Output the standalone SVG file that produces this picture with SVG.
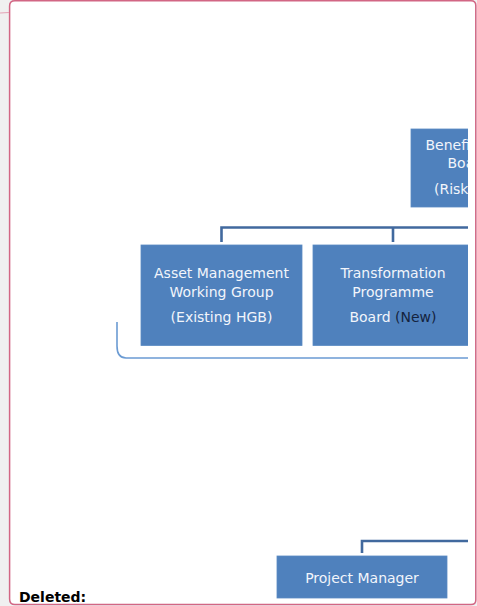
<svg xmlns="http://www.w3.org/2000/svg" width="477" height="606" viewBox="0 0 477 606">
  <style>
    .box { fill: #4f81bd; stroke: #5a8ac3; stroke-width: 0.8; }
    .lbl { font-family: "DejaVu Sans", Verdana, sans-serif; font-size: 14px; fill: #f2f5fb; }
    .dark { fill: #14233e; }
    .conn { fill: none; stroke: #41699e; stroke-width: 2.6; }
    .brace { fill: none; stroke: #6b9bd3; stroke-width: 1.6; }
  </style>
  <defs>
    <clipPath id="page">
      <rect x="10" y="1" width="458" height="603"/>
    </clipPath>
  </defs>

  <!-- margin and page frame -->
  <rect x="0" y="0" width="477" height="606" fill="#f0f0f0"/>
  <path d="M15,0.8 H471 Q475.8,0.8 475.8,5.6 V600 Q475.8,604.6 471,604.6 H15 Q9.6,604.6 9.6,599 V6 Q9.6,0.8 15,0.8 Z" fill="#ffffff" stroke="#d26684" stroke-width="1.5"/>
  <line x1="0" y1="13" x2="9" y2="12.5" stroke="#e4a3b5" stroke-width="1.2"/>

  <g clip-path="url(#page)">
    <!-- connectors -->
    <g id="connectors">
      <path class="conn" d="M221.5,242 V227.5 H470"/>
      <path class="conn" d="M393,242 V227.5"/>
      <path class="conn" d="M362,553 V541 H470"/>
      <path class="brace" d="M117,322 V346 Q117,358 126,358 H470"/>
    </g>

    <g id="benefits-board">
      <rect class="box" x="411" y="129" width="70" height="78"/>
      <text class="lbl" x="425.5" y="150">Benefi</text>
      <text class="lbl" x="447.5" y="168">Boa</text>
      <text class="lbl" x="434" y="194">(Risk</text>
    </g>

    <g id="asset-management">
      <rect class="box" x="141" y="245" width="161" height="100.5"/>
      <text class="lbl" x="221.5" y="278" text-anchor="middle">Asset Management</text>
      <text class="lbl" x="221.5" y="297" text-anchor="middle">Working Group</text>
      <text class="lbl" x="221.5" y="322" text-anchor="middle">(Existing HGB)</text>
    </g>

    <g id="transformation-board">
      <rect class="box" x="313" y="245" width="170" height="100.5"/>
      <text class="lbl" x="393" y="278" text-anchor="middle">Transformation</text>
      <text class="lbl" x="393" y="297" text-anchor="middle">Programme</text>
      <text class="lbl" x="393" y="322" text-anchor="middle">Board <tspan class="dark">(New)</tspan></text>
    </g>

    <g id="project-manager">
      <rect class="box" x="277" y="556" width="170" height="42"/>
      <text class="lbl" x="362" y="583" text-anchor="middle">Project Manager</text>
    </g>
  </g>

  <text x="19" y="601.5" font-family="'DejaVu Sans', Verdana, sans-serif" font-size="14" font-weight="bold" fill="#000000">Deleted:</text>
</svg>
